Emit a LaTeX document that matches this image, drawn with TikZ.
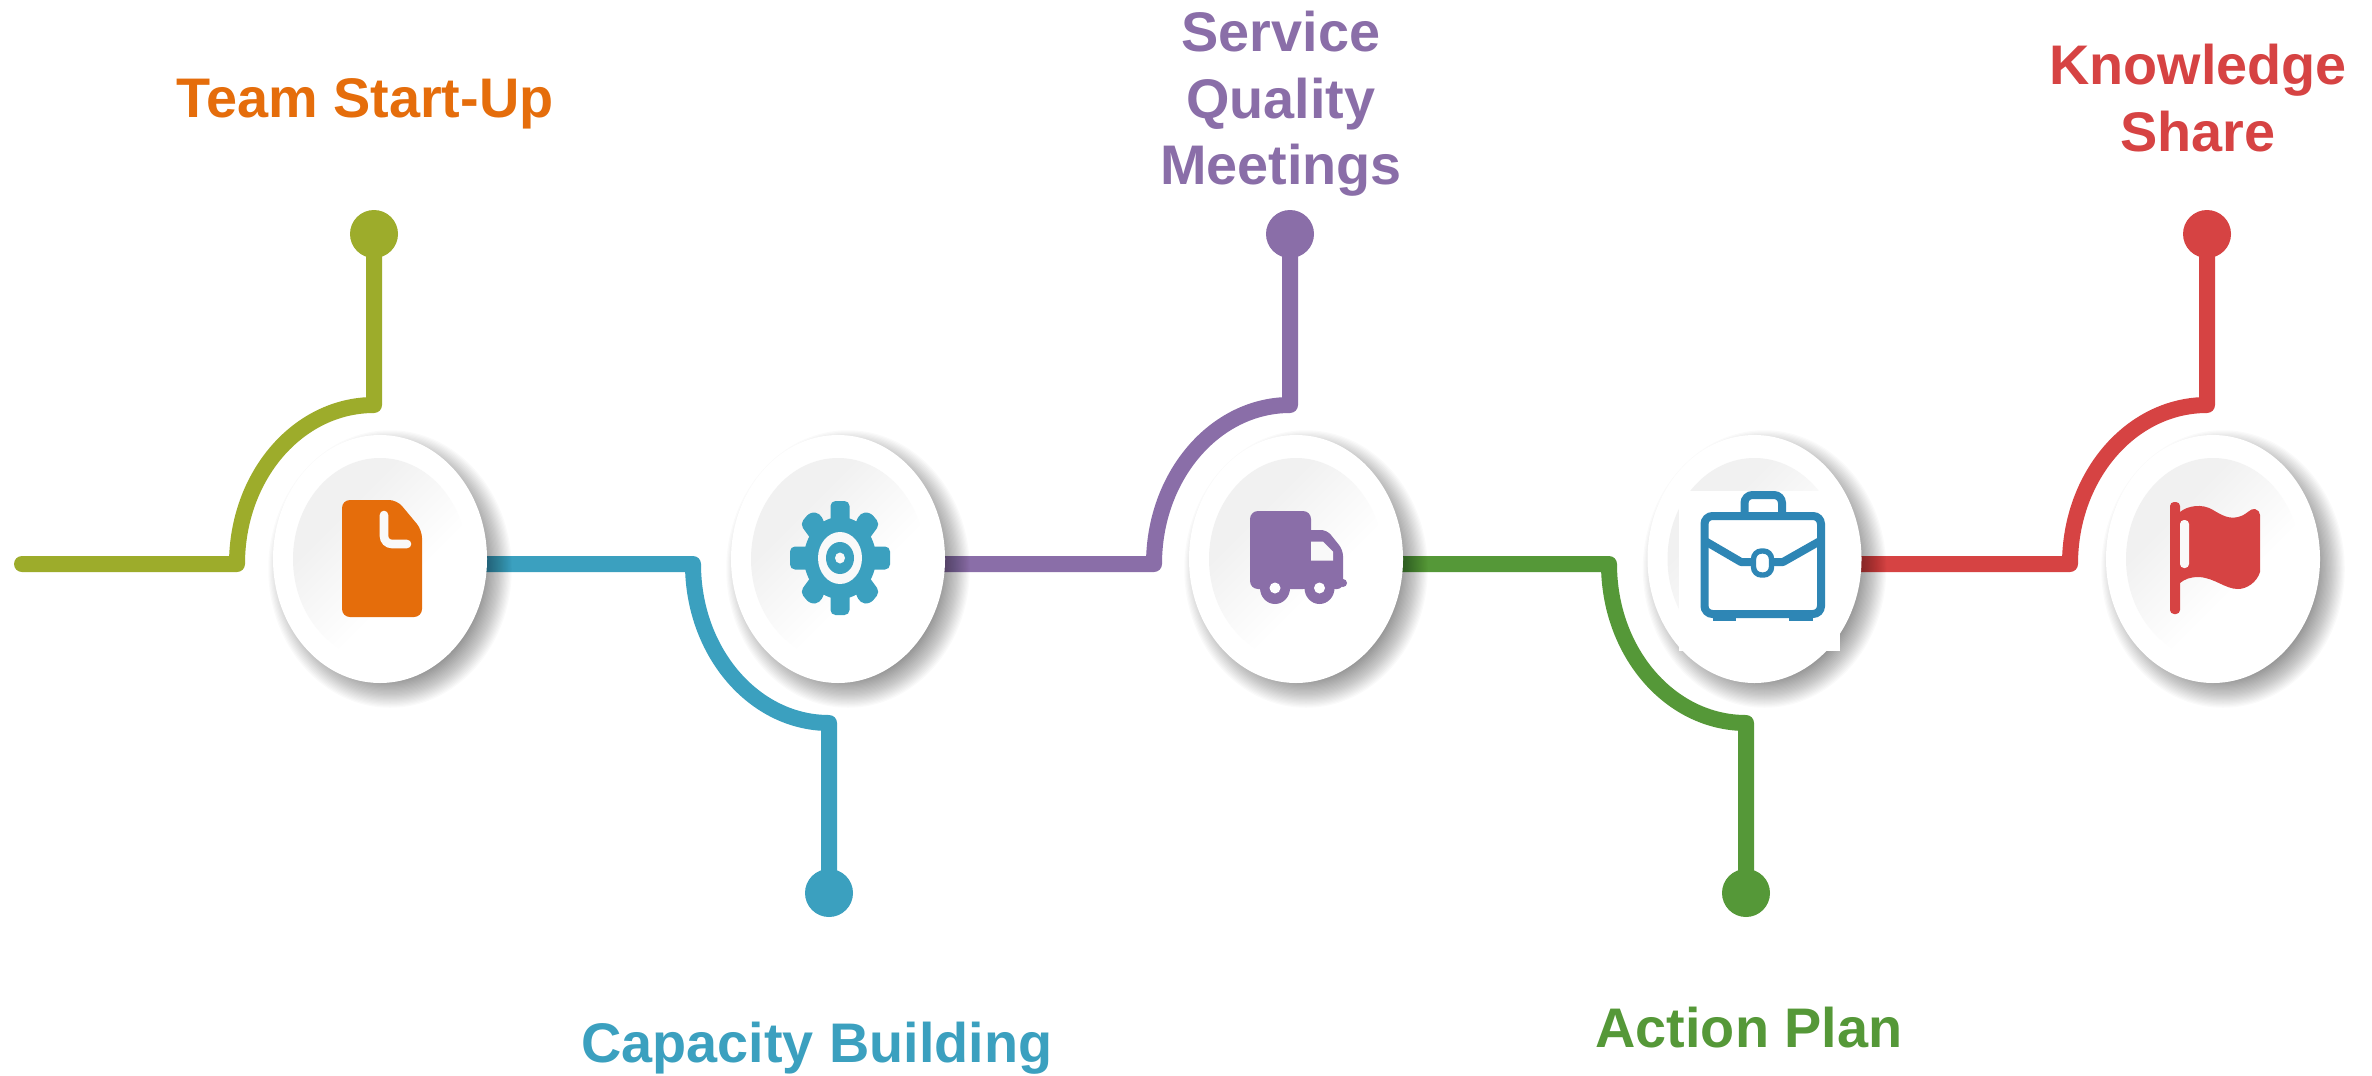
\documentclass[tikz,border=0pt]{standalone}
\usepackage{fontspec}
\setmainfont{Liberation Sans}
\usetikzlibrary{shapes.geometric}
\pgfdeclarelayer{under}
\pgfsetlayers{under,main}
\definecolor{olive}{HTML}{9DAC2B}
\definecolor{teal2}{HTML}{3BA0BF}
\definecolor{purp}{HTML}{8A6EA8}
\definecolor{grn}{HTML}{559838}
\definecolor{redd}{HTML}{D64343}
\definecolor{orng}{HTML}{E56D0B}
\definecolor{brief}{HTML}{2E86B5}
\definecolor{paper}{HTML}{F9F9F9}
\pgfdeclareverticalshading{discshade}{100bp}{color(0bp)=(white); color(40bp)=(white); color(52bp)=(black!2.5); color(66bp)=(black!5.5); color(100bp)=(black!5.5)}
\tikzset{
  disc/.style={ellipse,draw=none,fill=white,inner sep=0pt,outer sep=0pt,minimum width=107pt,minimum height=124pt},
  innerdisc/.style={ellipse,draw=none,inner sep=0pt,outer sep=0pt,minimum width=87pt,minimum height=101pt,
     shading=discshade,shading angle=45},
  dot/.style={circle,fill=#1,draw=none,inner sep=0pt,outer sep=0pt,minimum size=24pt},
  wire/.style={draw=#1,line width=8pt,line cap=round,line join=round},
  lab/.style={font=\bfseries\fontsize{27.9}{33.2}\selectfont,align=center,inner sep=0pt},
}
\newcommand{\softshadow}[2]{%
  \foreach \i in {0,...,23}{%
    \fill[black,opacity=.021] (#1+10,#2+10) ellipse [x radius={107+(\i*1.25-14)},y radius={124+(\i*1.25-14)}];
  }%
}
\begin{document}
\begin{tikzpicture}[x=0.5pt,y=-0.5pt]
\useasboundingbox (0,0) rectangle (2372,1076);
\begin{pgfonlayer}{under}
\fill[white] (0,0) rectangle (2372,1076);
\end{pgfonlayer}

% discs
\foreach \n/\c in {e1/380,e2/838,e3/1296,e4/1754.5,e5/2213}{
  \node[disc] (\n) at (\c,559) {};
  \node[innerdisc] (\n i) at (\c,559) {};
}
% end dots
\node[dot=olive] (d1) at (374,234) {};
\node[dot=teal2] (d2) at (829,893) {};
\node[dot=purp]  (d3) at (1290,234) {};
\node[dot=grn]   (d4) at (1746,893) {};
\node[dot=redd]  (d5) at (2207,234) {};
% way-points
\coordinate (s0) at (22,564);
\coordinate (k1) at (237,564); \coordinate (t1) at (374,405);
\coordinate (k2) at (693,564); \coordinate (t2) at (829,723);
\coordinate (k3) at (1154,564); \coordinate (t3) at (1290,405);
\coordinate (k4) at (1609,564); \coordinate (t4) at (1746,723);
\coordinate (k5) at (2070,564); \coordinate (t5) at (2207,405);

\begin{pgfonlayer}{under}
\draw[wire=olive] (s0) -- (k1) .. controls +(0,-88) and +(-76,0) .. (t1) -- (d1.center);
\draw[wire=teal2] (e1.center |- k2) -- (k2) .. controls +(0,88) and +(-75,0) .. (t2) -- (d2.center);
\draw[wire=purp]  (e2.center |- k3) -- (k3) .. controls +(0,-88) and +(-75,0) .. (t3) -- (d3.center);
\draw[wire=grn]   (e3.center |- k4) -- (k4) .. controls +(0,88) and +(-76,0) .. (t4) -- (d4.center);
\draw[wire=redd]  (e4.center |- k5) -- (k5) .. controls +(0,-88) and +(-76,0) .. (t5) -- (d5.center);
\softshadow{380}{559}
\softshadow{838}{559}
\softshadow{1296}{559}
\softshadow{1754.5}{559}
\softshadow{2213}{559}
\end{pgfonlayer}

% labels
\node[lab,text=orng] (l1) at (365,104) {Team Start-Up};
\node[lab,text=teal2] (l2) at (817,1048) {Capacity Building};
\node[lab,text=purp] (l3) at (1281,104) {Service\\Quality\\Meetings};
\node[lab,text=grn] (l4) at (1749,1028) {Action Plan};
\node[lab,text=redd] (l5) at (2198,98) {Knowledge\\Share};

% document icon
\fill[orng,rounded corners=4pt] (342,500) -- (397,500) -- (422,530) -- (422,617) -- (342,617) -- cycle;
\draw[paper,line width=4.3pt,line cap=round,rounded corners=4pt] (384,515) -- (384,544) -- (407,544);

% gear icon
\begin{scope}[shift={(840,558)}]
  \foreach \a in {0,180}{\fill[teal2,rounded corners=2.5pt,rotate=\a] (0,-11.5) -- (50,-11.5) -- (50,11.5) -- (0,11.5) -- cycle;}
  \foreach \a in {90,270}{\fill[teal2,rounded corners=2.5pt] (-9.5,0) rectangle (9.5,{sin(\a)*57});}
  \foreach \a in {1,-1}{\foreach \b in {1,-1}{
    \fill[teal2,rounded corners=2.5pt] ({\a*8},{\b*18}) -- ({\a*20},{\b*45}) -- ({\a*30},{\b*46}) -- ({\a*40},{\b*34}) -- ({\a*24},{\b*12}) -- cycle;
  }}
  \fill[teal2] (0,0) ellipse [x radius=36,y radius=41];
  \fill[paper] (0,0) ellipse [x radius=22,y radius=26];
  \fill[teal2] (0,0) ellipse [x radius=14,y radius=16];
  \fill[paper] (0,0) ellipse [x radius=5,y radius=5.5];
\end{scope}

% truck icon
\fill[purp,rounded corners=4pt] (1250,511) -- (1311,511) -- (1311,560) -- (1311,589) -- (1250,589) -- cycle;
\fill[purp,rounded corners=3pt] (1300,530) -- (1327,530) -- (1343,550) -- (1343,589) -- (1300,589) -- cycle;
\fill[purp] (1343,583) circle [radius=4];
\fill[purp] (1275,588) ellipse [x radius=15,y radius=16];
\fill[purp] (1319.5,588) ellipse [x radius=15,y radius=16];
\fill[white] (1275,588) circle [radius=5.5];
\fill[white] (1319.5,588) circle [radius=5.5];
\fill[paper] (1311,541.7) -- (1323,541.7) -- (1333,551.7) -- (1333,560.7) -- (1311,560.7) -- cycle;

% briefcase icon on its white panel
\fill[white] (1679,491) rectangle (1840,651);
\begin{scope}[draw=brief,line width=4pt]
  \draw[rounded corners=4pt] (1744.5,513) -- (1744.5,495) -- (1782,495) -- (1782,513);
  \fill[brief] (1713,612) rectangle (1736,621);
  \fill[brief] (1789,612) rectangle (1813,621);
  \draw[fill=white,rounded corners=4pt] (1704.5,516) rectangle (1821,614);
  \draw[line join=round] (1705,541) -- (1741,562) -- (1783,562) -- (1820,541);
  \draw[fill=white,rounded corners=4pt,line width=2.7pt] (1753.5,551) rectangle (1771.5,575);
\end{scope}

% flag icon
\begin{scope}[xshift=-1.5pt]
\fill[redd,rounded corners=2pt] (2173,502) rectangle (2183,614);
\fill[redd] (2183,512) .. controls (2190,506) and (2205,503) .. (2216,510)
  .. controls (2226,516) and (2232,519) .. (2241,517)
  .. controls (2250,515) and (2253,508) .. (2258,509)
  .. controls (2261,510) and (2263,512) .. (2263,515)
  -- (2263,572) .. controls (2260,582) and (2250,589) .. (2241,589)
  .. controls (2228,589) and (2218,578) .. (2202,577)
  .. controls (2193,577) and (2188,579) .. (2183,583) -- cycle;
\fill[paper,rounded corners=2pt] (2183,520) rectangle (2192,568);
\end{scope}
\end{tikzpicture}
\end{document}
